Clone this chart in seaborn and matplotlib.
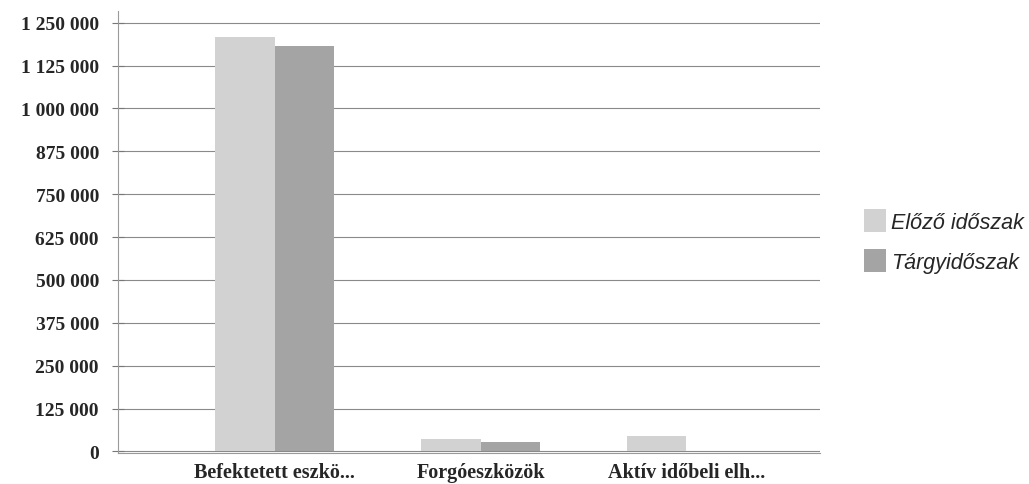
import numpy as np
import pandas as pd
import matplotlib.pyplot as plt
import seaborn as sns

# --- adatok ---
categories = ["Befektetett eszkö...", "Forgóeszközök", "Aktív időbeli elh..."]
series = ["Előző időszak", "Tárgyidőszak"]
elozo = [1208000, 35000, 44000]
targy = [1182000, 26000, 0]
yticks = list(range(0, 1250001, 125000))

df = pd.DataFrame({
    "kategoria": categories * 2,
    "idoszak": [series[0]] * 3 + [series[1]] * 3,
    "ertek": elozo + targy,
})

sns.set_style("white")

fig = plt.figure(figsize=(10.29, 4.85), dpi=100)
ax = fig.add_axes([0.115, 0.063, 0.682, 0.913])

sns.barplot(
    data=df, x="kategoria", y="ertek", hue="idoszak",
    palette=["#d2d2d2", "#a4a4a4"], width=0.58, saturation=1,
    edgecolor="none", ax=ax,
)

ax.set_ylim(-6000, 1285000)
ax.set_xlim(-0.76, 2.65)
ax.set_yticks(yticks)
ax.set_yticklabels([f"{v:,}".replace(",", " ") for v in yticks],
                   fontfamily="Liberation Serif", fontweight="bold", fontsize=14)
ax.set_xticks(range(len(categories)))
ax.set_xticklabels(categories, fontfamily="Liberation Serif",
                   fontweight="bold", fontsize=14.5)
ax.set_xlabel("")
ax.set_ylabel("")

ax.yaxis.grid(True, color="#8a8a8a", linewidth=0.8)
ax.set_axisbelow(True)
for s in ["top", "right"]:
    ax.spines[s].set_visible(False)
ax.spines["left"].set_color("#9a9a9a")
ax.spines["bottom"].set_color("#9a9a9a")
ax.tick_params(axis="y", direction="inout", length=8, color="#777777", pad=10, left=True)
ax.tick_params(axis="x", length=0, pad=6)

ax.legend(
    loc="center left", bbox_to_anchor=(1.035, 0.48), frameon=False,
    prop={"family": "Liberation Sans", "style": "italic", "size": 15.5},
    handlelength=1.0, handleheight=1.3, handletextpad=0.25, labelspacing=0.75,
)

fig.savefig("out.png", dpi=100)
